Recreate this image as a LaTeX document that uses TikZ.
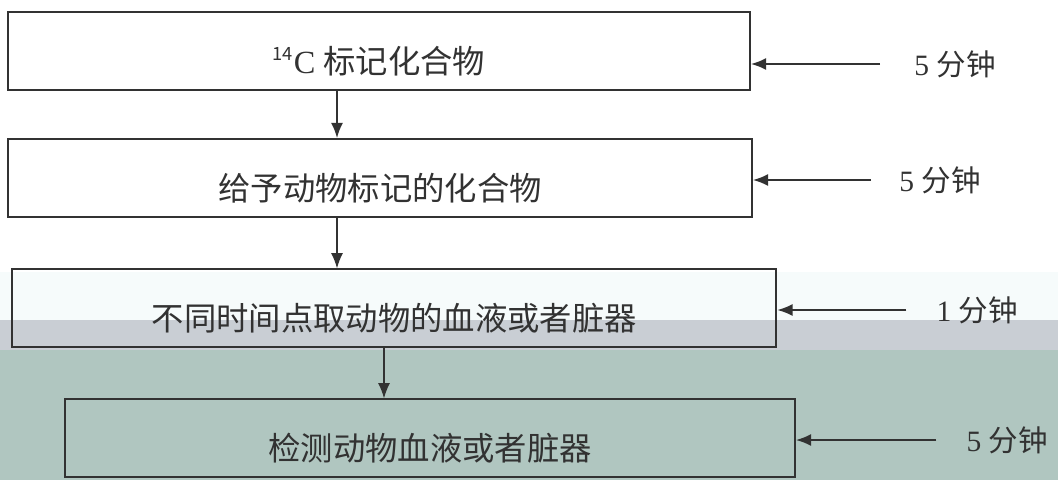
\documentclass[tikz,border=0pt]{standalone}
\usepackage{fontspec}
\setmainfont{Liberation Serif}
\newfontfamily\cjk{Noto Sans CJK SC}
\usepackage{tikz}
\usetikzlibrary{arrows.meta}
\definecolor{bandA}{RGB}{246,251,251}
\definecolor{bandB}{RGB}{201,206,212}
\definecolor{bandC}{RGB}{176,198,192}
\definecolor{ink}{RGB}{50,50,50}
\tikzset{
  stepbox/.style={draw=ink, line width=1.4pt, minimum height=1.95cm, inner sep=0pt,
    text height=1.2cm, text depth=0.08cm,
    font=\fontsize{23}{26}\selectfont\cjk, text=ink},
  timelab/.style={inner sep=0pt, font=\fontsize{21}{24}\selectfont, text=ink},
  flow/.style={-{Latex[length=0.38cm,width=0.3cm]}, ink, line width=1.1pt}
}

\begin{document}
\begin{tikzpicture}
		\useasboundingbox (0,0) rectangle (26.45,-12);
		% 背景
		\fill[bandA] (0,-6.8) rectangle (26.45,-8.0);
		\fill[bandB] (0,-8.0) rectangle (26.45,-8.75);
		\fill[bandC] (0,-8.75) rectangle (26.45,-12);
		% 方框
		\node [stepbox, minimum width=18.55cm] (b1) at (9.475,-1.275) {\textsuperscript{\fontsize{13}{14}\selectfont 14}\fontspec{Liberation Serif}C \cjk 标记化合物};
		\node [stepbox, minimum width=18.6cm] (b2) at (9.5,-4.45) {给予动物标记的化合物};
		\node [stepbox, minimum width=19.1cm] (b3) at (9.86,-7.71) {不同时间点取动物的血液或者脏器};
		\node [stepbox, minimum width=18.25cm] (b4) at (10.75,-10.96) {检测动物血液或者脏器};
		% 时间
		\node [timelab] (t1) at (23.875,-1.6) {5 {\cjk 分钟}};
		\node [timelab] (t2) at (23.5,-4.5) {5 {\cjk 分钟}};
		\node [timelab] (t3) at (24.43,-7.75) {1 {\cjk 分钟}};
		\node [timelab] (t4) at (25.18,-11.0) {5 {\cjk 分钟}};
		% 箭头
		\coordinate (c1) at (8.425,0);
		\coordinate (c2) at (9.6,0);
		\draw [flow] (b1.south -| c1) -- (b2.north -| c1);
		\draw [flow] (b2.south -| c1) -- (b3.north -| c1);
		\draw [flow] (b3.south -| c2) -- (b4.north -| c2);
		\draw [flow, shorten <=0.85cm] (t1.west) -- (b1.east |- t1.west);
		\draw [flow, shorten <=0.7cm] (t2.west) -- (b2.east |- t2.west);
		\draw [flow, shorten <=0.75cm] (t3.west) -- (b3.east |- t3.west);
		\draw [flow, shorten <=0.75cm] (t4.west) -- (b4.east |- t4.west);
\end{tikzpicture}
\end{document}
